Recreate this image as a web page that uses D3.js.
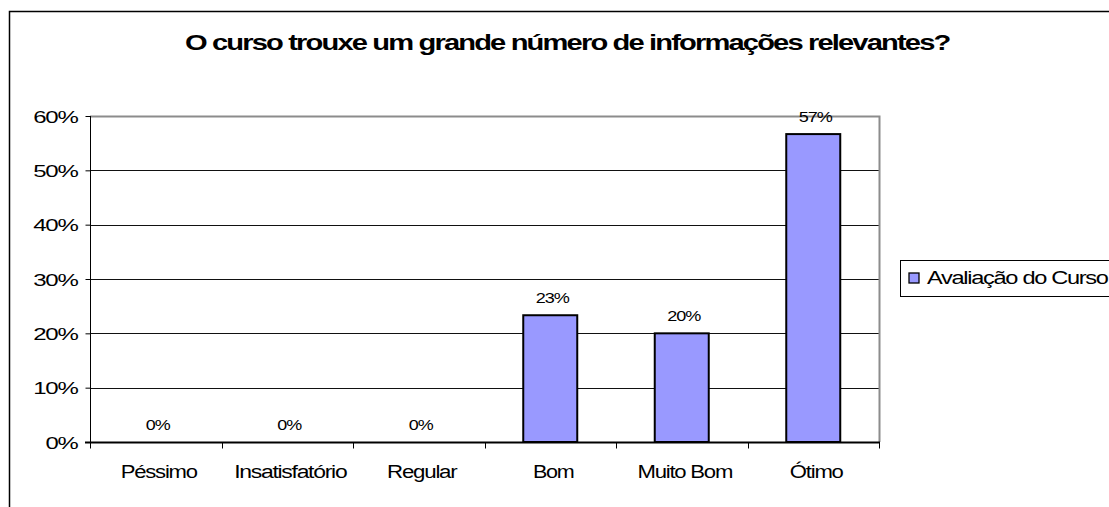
<!DOCTYPE html>
<html><head><meta charset="utf-8">
<script src="https://cdn.jsdelivr.net/npm/d3@7"></script>
<style>
html,body{margin:0;padding:0;background:#fff;}
svg{display:block;font-family:"Liberation Sans",Arial,sans-serif;}
</style></head>
<body>
<svg id="chart" width="1109" height="507"></svg>
<script>
const title = "O curso trouxe um grande número de informações relevantes?";
const categories = ["Péssimo","Insatisfatório","Regular","Bom","Muito Bom","Ótimo"];
const values = [0, 0, 0, 0.2333, 0.2, 0.5667];
const valueLabels = ["0%","0%","0%","23%","20%","57%"];
const yTicks = [0,0.1,0.2,0.3,0.4,0.5,0.6];
const seriesName = "Avaliação do Curso";

const svg = d3.select("#chart");
const W = 1109, H = 507;
const plot = {left: 90, right: 879, top: 116, bottom: 442};

// wide glyphs with tight spacing, like the original rendering
function stretch(sel, k, ls){
  sel.each(function(){
    const n = this.getComputedTextLength();
    d3.select(this).attr("letter-spacing", ls)
      .attr("textLength", n*k).attr("lengthAdjust","spacingAndGlyphs");
  });
}

// outer chart border
svg.append("path")
  .attr("d", `M9.5,${H+5} V11.5 H${W+5}`)
  .attr("fill","none").attr("stroke","#000").attr("stroke-width",1.5);

// title
const tt = svg.append("text")
  .attr("x", 185).attr("y", 50)
  .attr("font-weight","bold").attr("font-size",22)
  .text(title);
stretch(tt, 1.16, -1.4);

const x = d3.scaleBand().domain(categories).range([plot.left, plot.right]).paddingInner(0).paddingOuter(0);
const y = d3.scaleLinear().domain([0,0.6]).range([plot.bottom, plot.top]);

// gridlines
svg.append("g").selectAll("line").data(yTicks.filter(d=>d>0)).join("line")
  .attr("x1", plot.left).attr("x2", plot.right)
  .attr("y1", d=>Math.round(y(d))+0.5).attr("y2", d=>Math.round(y(d))+0.5)
  .attr("stroke","#111").attr("stroke-width",1);

// plot area border (gray top/right)
svg.append("path")
  .attr("d", `M${plot.left},${plot.top+0.5} H${plot.right+0.5} V${plot.bottom}`)
  .attr("fill","none").attr("stroke","#8c8c8c").attr("stroke-width",2);

const rows = values.map((v,i)=>({c:categories[i], v, l:valueLabels[i]}));

// bars
const bw = 54;
svg.append("g").selectAll("rect").data(rows.filter(d=>d.v>0)).join("rect")
  .attr("x", d=>x(d.c)+x.bandwidth()/2-bw/2)
  .attr("y", d=>y(d.v))
  .attr("width", bw)
  .attr("height", d=>y(0)-y(d.v))
  .attr("fill","#9999ff").attr("stroke","#000").attr("stroke-width",2);

// value labels
const vl = svg.append("g").selectAll("text").data(rows).join("text")
  .attr("x", d=>x(d.c)+x.bandwidth()/2+2)
  .attr("y", d=>y(d.v)-12.5)
  .attr("text-anchor","middle").attr("font-size",14)
  .text(d=>d.l);
stretch(vl, 1.18, -0.8);

// y axis
const yAxis = d3.axisLeft(y).tickValues(yTicks).tickFormat(d3.format(".0%")).tickSize(5).tickPadding(8);
const ya = svg.append("g").attr("transform",`translate(${plot.left+0.5},0)`).call(yAxis);
ya.select(".domain").attr("stroke","#000").attr("d",`M0,${plot.top}V${plot.bottom}`);
ya.selectAll(".tick line").attr("stroke","#000");
const yt = ya.selectAll(".tick text").attr("font-size",17).attr("fill","#000")
  .attr("font-family","'Liberation Sans',Arial,sans-serif").attr("dy","0.36em");
stretch(yt, 1.3, -0.9);

// x axis
const xAxis = d3.axisBottom(x).tickSize(0).tickPadding(23);
const xa = svg.append("g").attr("transform",`translate(0,${plot.bottom+0.5})`).call(xAxis);
xa.select(".domain").attr("stroke","#000").attr("stroke-width",2).attr("d",`M${plot.left-5},0H${plot.right+1}`);
xa.selectAll(".tick").attr("transform", d=>`translate(${x(d)+x.bandwidth()/2+3},0)`);
const xt = xa.selectAll(".tick text").attr("font-size",18).attr("fill","#000")
  .attr("font-family","'Liberation Sans',Arial,sans-serif");
stretch(xt, 1.1, -1.0);
// category boundary ticks
xa.append("g").selectAll("line").data(d3.range(categories.length+1)).join("line")
  .attr("x1", i=>Math.round(plot.left + i*x.step())+0.5)
  .attr("x2", i=>Math.round(plot.left + i*x.step())+0.5)
  .attr("y1",0).attr("y2",6).attr("stroke","#000");

// legend
const lg = svg.append("g");
lg.append("rect").attr("x",900.5).attr("y",260.5).attr("width",220).attr("height",36)
  .attr("fill","#fff").attr("stroke","#000").attr("stroke-width",1);
lg.append("rect").attr("x",909).attr("y",273).attr("width",10).attr("height",10)
  .attr("fill","#9999ff").attr("stroke","#000").attr("stroke-width",1.3);
const lt = lg.append("text").attr("x",927).attr("y",284).attr("font-size",18)
  .text(seriesName);
stretch(lt, 1.16, -1.0);
</script>
</body></html>
